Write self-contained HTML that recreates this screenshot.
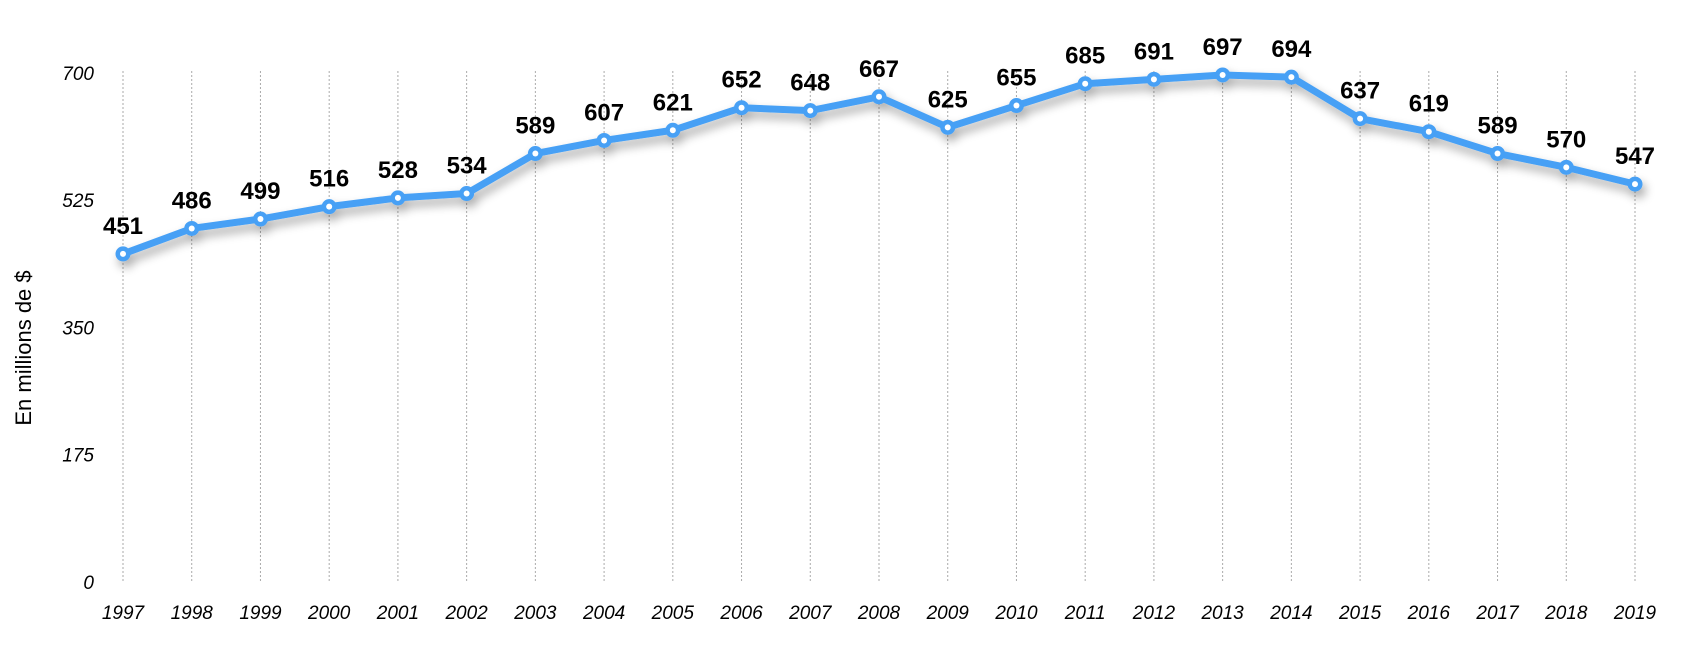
<!DOCTYPE html>
<html><head><meta charset="utf-8"><style>
html,body{margin:0;padding:0;background:#fff;}
svg{display:block;font-family:"Liberation Sans",sans-serif;}
</style></head><body>
<svg id="chart" width="1682" height="656" viewBox="0 0 1682 656" xmlns="http://www.w3.org/2000/svg">
<defs>
<filter id="sh" x="-5%" y="-20%" width="110%" height="160%">
<feGaussianBlur in="SourceAlpha" stdDeviation="5"/>
<feOffset dx="3" dy="6"/>
<feComponentTransfer><feFuncA type="linear" slope="0.35"/></feComponentTransfer>
<feMerge><feMergeNode/><feMergeNode in="SourceGraphic"/></feMerge>
</filter>
</defs>
<g id="grid"></g>
<g id="yticks"></g>
<g id="xticks"></g>
<text transform="translate(31,348) rotate(-90)" text-anchor="middle" font-size="22" fill="#000">En millions de $</text>
<g id="series" filter="url(#sh)"></g>
<g id="labels"></g>
</svg>
<script>
const years = ["1997","1998","1999","2000","2001","2002","2003","2004","2005","2006","2007","2008","2009","2010","2011","2012","2013","2014","2015","2016","2017","2018","2019"];
const values = [451,486,499,516,528,534,589,607,621,652,648,667,625,655,685,691,697,694,637,619,589,570,547];
const yTickValues = [0,175,350,525,700];
const yMax = 700;
const NS = "http://www.w3.org/2000/svg";
const x0 = 123, x1 = 1635, yTop = 72.8, yBot = 582;
function xs(i){ return x0 + (x1 - x0) * i / (years.length - 1); }
function ys(v){ return yBot - (yBot - yTop) * v / yMax; }
function mk(tag, attrs, parent){ const e = document.createElementNS(NS, tag); for (const k in attrs) e.setAttribute(k, attrs[k]); parent.appendChild(e); return e; }
const grid = document.getElementById('grid'), yt = document.getElementById('yticks'), xt = document.getElementById('xticks'), se = document.getElementById('series'), lb = document.getElementById('labels');
years.forEach((y, i) => {
  const l = mk('line', {x1: xs(i), x2: xs(i), y1: 71, y2: 582, stroke: '#aaa', 'stroke-width': 1, 'stroke-dasharray': '2,2'}, grid);
  
  
  const t = mk('text', {x: xs(i), y: 619, 'text-anchor': 'middle', 'font-size': 19, 'font-style': 'italic', fill: '#000'}, xt);
  t.textContent = y;
  
  
});
yTickValues.forEach(v => {
  const t = mk('text', {x: 94, y: ys(v) + 7, 'text-anchor': 'end', 'font-size': 19, 'font-style': 'italic', fill: '#000'}, yt);
  t.textContent = v;
  
  
});
const pts = values.map((v, i) => xs(i) + ',' + ys(v)).join(' ');
const pl = mk('polyline', {points: pts, fill: 'none', stroke: '#46a0f5', 'stroke-width': 7, 'stroke-linejoin': 'round', 'stroke-linecap': 'round'}, se);


values.forEach((v, i) => {
  const c = mk('circle', {cx: xs(i), cy: ys(v), r: 7.5, fill: '#46a0f5'}, se);
  
  
  const c2 = mk('circle', {cx: xs(i), cy: ys(v), r: 3, fill: '#fff'}, se);
  
  
  const t = mk('text', {x: xs(i), y: ys(v) - 20, 'text-anchor': 'middle', 'font-size': 24, 'font-weight': 'bold', fill: '#000'}, lb);
  t.textContent = v;
  
  
});
</script>
</body></html>
